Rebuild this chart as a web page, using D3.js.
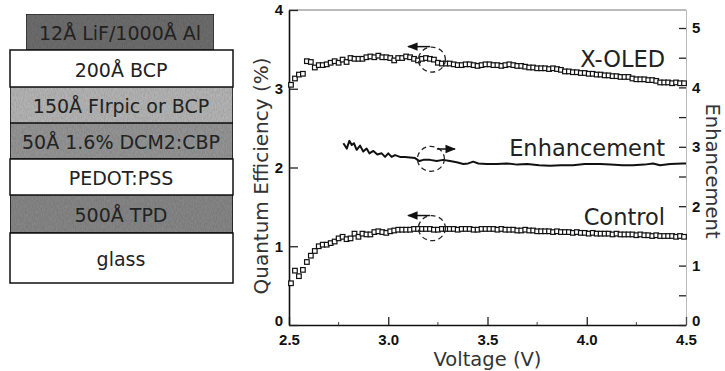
<!DOCTYPE html>
<html>
<head>
<meta charset="utf-8">
<script src="https://cdnjs.cloudflare.com/ajax/libs/d3/7.8.5/d3.min.js"></script>
<style>
  body { margin: 0; background: #fff; }
  svg { display: block; }
</style>
</head>
<body>
<div id="chart"></div>
<script>
// device stack, top to bottom (below the cathode)
var cathodeName = "12Å LiF/1000Å Al";
var layerNames = ["200Å BCP", "150Å FIrpic or BCP", "50Å 1.6% DCM2:CBP", "PEDOT:PSS", "500Å TPD", "glass"];
var layerShades = ["#ffffff", "#bcbcbc", "#9b9b9b", "#ffffff", "#8c8c8c", "#ffffff"];

// axes
var xTicks = [2.5, 3.0, 3.5, 4.0, 4.5];
var xMinorTicks = [2.75, 3.25, 3.75, 4.25];
var leftTicks = [0, 1, 2, 3, 4];
var rightTicks = [0, 0.5, 1, 1.5, 2, 2.5, 3, 3.5, 4, 4.5, 5];

// measured every 0.02 V starting at 2.51 V
var voltageStart = 2.51;
var voltageStep = 0.02;

// X-OLED quantum efficiency (%)
var xoled = [
  3.05, 3.13, 3.18, 3.19, 3.35, 3.34, 3.27, 3.30, 3.30, 3.31,
  3.33, 3.35, 3.33, 3.37, 3.34, 3.39, 3.38, 3.38, 3.38, 3.40,
  3.41, 3.40, 3.42, 3.40, 3.40, 3.39, 3.36, 3.39, 3.39, 3.41,
  3.40, 3.38, 3.36, 3.38, 3.39, 3.38, 3.37, 3.33, 3.32, 3.32,
  3.32, 3.31, 3.30, 3.30, 3.31, 3.31, 3.30, 3.29, 3.30, 3.31,
  3.31, 3.30, 3.30, 3.29, 3.30, 3.31, 3.30, 3.29, 3.29, 3.28,
  3.27, 3.27, 3.26, 3.26, 3.26, 3.25, 3.26, 3.25, 3.24, 3.22,
  3.22, 3.21, 3.21, 3.20, 3.20, 3.19, 3.19, 3.18, 3.18, 3.17,
  3.17, 3.16, 3.16, 3.15, 3.15, 3.15, 3.13, 3.12, 3.12, 3.12,
  3.11, 3.11, 3.10, 3.08, 3.08, 3.08, 3.07, 3.08, 3.07, 3.07
];

// Control quantum efficiency (%)
var control = [
  0.53, 0.69, 0.62, 0.70, 0.80, 0.88, 0.94, 1.00, 1.02, 1.02,
  1.04, 1.06, 1.10, 1.12, 1.09, 1.10, 1.16, 1.12, 1.16, 1.15,
  1.15, 1.18, 1.19, 1.18, 1.17, 1.19, 1.20, 1.21, 1.21, 1.21,
  1.21, 1.22, 1.22, 1.22, 1.22, 1.22, 1.21, 1.21, 1.22, 1.22,
  1.22, 1.22, 1.21, 1.22, 1.22, 1.22, 1.21, 1.21, 1.22, 1.22,
  1.22, 1.22, 1.21, 1.22, 1.21, 1.21, 1.21, 1.20, 1.20, 1.21,
  1.20, 1.20, 1.19, 1.19, 1.19, 1.19, 1.18, 1.19, 1.18, 1.18,
  1.18, 1.17, 1.18, 1.17, 1.17, 1.16, 1.17, 1.16, 1.16, 1.16,
  1.16, 1.15, 1.16, 1.15, 1.15, 1.15, 1.15, 1.14, 1.15, 1.14,
  1.14, 1.13, 1.14, 1.13, 1.13, 1.13, 1.13, 1.12, 1.13, 1.12
];

// Enhancement (right axis)
var enhVoltage = [
  2.774, 2.791, 2.804, 2.816, 2.827, 2.841, 2.858, 2.874, 2.891, 2.905,
  2.925, 2.945, 2.967, 2.984, 3.000, 3.017, 3.034, 3.059, 3.084, 3.110,
  3.135, 3.157, 3.177, 3.210, 3.244, 3.277, 3.311, 3.345, 3.378, 3.403,
  3.428, 3.454, 3.496, 3.546, 3.597, 3.650, 3.700, 3.760, 3.815, 3.870,
  3.930, 3.990, 4.067, 4.120, 4.180, 4.233, 4.290, 4.334, 4.369, 4.420,
  4.485, 4.500
];
var enhancement = [
  3.06, 2.97, 3.10, 3.03, 3.06, 2.95, 3.02, 2.92, 2.97, 2.89,
  2.93, 2.87, 2.89, 2.83, 2.89, 2.83, 2.86, 2.83, 2.83, 2.82,
  2.81, 2.76, 2.78, 2.78, 2.76, 2.78, 2.76, 2.74, 2.71, 2.72,
  2.75, 2.72, 2.71, 2.71, 2.72, 2.70, 2.71, 2.69, 2.68, 2.69,
  2.69, 2.71, 2.71, 2.70, 2.69, 2.69, 2.70, 2.72, 2.69, 2.71,
  2.72, 2.72
];

// curve labels
var curveLabels = ["X-OLED", "Enhancement", "Control"];
var curveLabelValue = [3.28, 2.15, 1.27];   // left-axis units, at the baseline

// dashed circles with arrows (left-axis units)
var circleVoltage = [3.22, 3.215, 3.22];
var circleValue = [3.37, 2.11, 1.23];
var arrowFrom = [3.21, 3.245, 3.21];
var arrowTo = [3.10, 3.336, 3.10];
var arrowValue = [3.535, 2.235, 1.39];

var svgWidth = 725;
var svgHeight = 371;

var plot = { left: 289, right: 686, top: 10, bottom: 325 };

var svg = d3.select("#chart")
  .append("svg")
  .attr("width", svgWidth)
  .attr("height", svgHeight);

svg.append("rect")
  .attr("width", svgWidth)
  .attr("height", svgHeight)
  .attr("fill", "#fff");

// grain texture for the shaded layers
var defs = svg.append("defs");
var grain = defs.append("filter").attr("id", "grain")
  .attr("x", 0).attr("y", 0).attr("width", 1).attr("height", 1);
grain.append("feTurbulence")
  .attr("type", "fractalNoise")
  .attr("baseFrequency", "0.9 0.35")
  .attr("numOctaves", 2)
  .attr("seed", 3)
  .attr("result", "noise");
grain.append("feColorMatrix")
  .attr("in", "noise")
  .attr("type", "matrix")
  .attr("values", "0 0 0 0 0  0 0 0 0 0  0 0 0 0 0  0 0 0 0.35 0")
  .attr("result", "dots");
grain.append("feComposite")
  .attr("in", "dots").attr("in2", "SourceGraphic").attr("operator", "in")
  .attr("result", "dotsIn");
grain.append("feMerge").selectAll("feMergeNode")
  .data(["SourceGraphic", "dotsIn"])
  .enter().append("feMergeNode").attr("in", d => d);

// ---------- device stack ----------
var stackFont = "'DejaVu Sans', sans-serif";
var rowEdges = [50, 87, 123, 159, 195, 233, 283];
var stack = svg.append("g");

var cathode = stack.append("g");
cathode.append("rect")
  .attr("x", 26).attr("y", 14)
  .attr("width", 188).attr("height", 36)
  .attr("fill", "#727272")
  .attr("stroke", "#222")
  .attr("stroke-width", 1.2)
  .attr("filter", "url(#grain)");
cathode.append("text")
  .attr("x", 120).attr("y", 40)
  .attr("text-anchor", "middle")
  .attr("font-family", stackFont)
  .attr("font-size", 19)
  .attr("fill", "#222")
  .text(cathodeName);

var rows = stack.selectAll("g.layer")
  .data(layerNames)
  .enter()
  .append("g")
  .attr("class", "layer");

rows.append("rect")
  .attr("x", 10)
  .attr("y", (d, i) => rowEdges[i])
  .attr("width", 223)
  .attr("height", (d, i) => rowEdges[i + 1] - rowEdges[i])
  .attr("fill", (d, i) => layerShades[i])
  .attr("stroke", "#111")
  .attr("stroke-width", 1.5)
  .attr("filter", (d, i) => layerShades[i] === "#ffffff" ? null : "url(#grain)");

rows.append("text")
  .attr("x", 121)
  .attr("y", (d, i) => (rowEdges[i] + rowEdges[i + 1]) / 2 + 8)
  .attr("text-anchor", "middle")
  .attr("font-family", stackFont)
  .attr("font-size", 19)
  .attr("fill", "#222")
  .text(d => d);

// ---------- chart ----------
var x = d3.scaleLinear().domain([2.5, 4.5]).range([plot.left, plot.right]);
var yL = d3.scaleLinear().domain([0, 4]).range([plot.bottom, plot.top]);
var yR = d3.scaleLinear().domain([0, 5.303]).range([plot.bottom, plot.top]);

var tickFont = "'Liberation Sans Narrow', 'Arial Narrow', 'Liberation Sans', sans-serif";
var labelFont = "'DejaVu Sans', sans-serif";

// top frame line
svg.append("line")
  .attr("x1", plot.left).attr("x2", plot.right)
  .attr("y1", plot.top).attr("y2", plot.top)
  .attr("stroke", "#777")
  .attr("stroke-width", 1);

var bottomAxis = d3.axisBottom(x)
  .tickValues(xTicks)
  .tickFormat(d3.format(".1f"))
  .tickSize(-8)
  .tickSizeOuter(0)
  .tickPadding(9);

var leftAxis = d3.axisLeft(yL)
  .tickValues(leftTicks)
  .tickFormat(d3.format("d"))
  .tickSize(-9)
  .tickSizeOuter(0)
  .tickPadding(6);

var rightAxis = d3.axisRight(yR)
  .tickValues(rightTicks)
  .tickFormat(d => Number.isInteger(d) ? d : "")
  .tickSize(-7)
  .tickSizeOuter(0)
  .tickPadding(6);

var xAxisG = svg.append("g")
  .attr("transform", `translate(0, ${plot.bottom})`)
  .call(bottomAxis);

// minor ticks on the voltage axis
xAxisG.selectAll("line.minor")
  .data(xMinorTicks)
  .enter()
  .append("line")
  .attr("class", "minor")
  .attr("x1", d => x(d)).attr("x2", d => x(d))
  .attr("y1", 0).attr("y2", -3)
  .attr("stroke", "#444");

var yAxisG = svg.append("g")
  .attr("transform", `translate(${plot.left}, 0)`)
  .call(leftAxis);

var rAxisG = svg.append("g")
  .attr("transform", `translate(${plot.right}, 0)`)
  .call(rightAxis);

[xAxisG, yAxisG, rAxisG].forEach(function(g) {
  g.attr("font-family", tickFont)
    .attr("font-size", 15)
    .attr("font-weight", "bold");
  g.selectAll("text").attr("fill", "#111");
  g.selectAll(".tick line").attr("stroke", "#222").attr("stroke-width", 1.3);
});

// the zero labels sit a little above the corner, clear of the voltage labels
[yAxisG, rAxisG].forEach(function(g) {
  g.selectAll(".tick text")
    .filter(d => d === 0)
    .attr("y", -4);
});

xAxisG.select(".domain").attr("stroke", "#111").attr("stroke-width", 1.6);
yAxisG.select(".domain").attr("stroke", "#111").attr("stroke-width", 1.6);
rAxisG.select(".domain")
  .attr("stroke", "#777")
  .attr("stroke-width", 1)
  .attr("stroke-dasharray", "1,1");

// axis titles
svg.append("text")
  .attr("transform", `translate(268, 176) rotate(-90)`)
  .attr("text-anchor", "middle")
  .attr("font-family", labelFont)
  .attr("font-size", 20)
  .attr("fill", "#333")
  .text("Quantum Efficiency (%)");

svg.append("text")
  .attr("x", (plot.left + plot.right) / 2)
  .attr("y", 366)
  .attr("text-anchor", "middle")
  .attr("font-family", labelFont)
  .attr("font-size", 19.5)
  .attr("fill", "#333")
  .text("Voltage (V)");

svg.append("text")
  .attr("transform", `translate(706, 171) rotate(90)`)
  .attr("text-anchor", "middle")
  .attr("font-family", labelFont)
  .attr("font-size", 19.5)
  .attr("fill", "#333")
  .text("Enhancement");

// series
var voltageAt = i => voltageStart + i * voltageStep;

// enhancement line
var enhLine = d3.line()
  .x(d => x(d[0]))
  .y(d => yR(d[1]));

svg.append("path")
  .datum(d3.zip(enhVoltage, enhancement))
  .attr("d", enhLine)
  .attr("fill", "none")
  .attr("stroke", "#111")
  .attr("stroke-width", 2)
  .attr("stroke-linejoin", "round");

function drawSquares(values, cls) {
  svg.selectAll("rect." + cls)
    .data(values)
    .enter()
    .append("rect")
    .attr("class", cls)
    .attr("x", (d, i) => x(voltageAt(i)) - 2.3)
    .attr("y", d => yL(d) - 2.3)
    .attr("width", 4.6)
    .attr("height", 4.6)
    .attr("fill", "#fff")
    .attr("stroke", "#111")
    .attr("stroke-width", 1.2);
}
drawSquares(xoled, "xoled");
drawSquares(control, "control");

// dashed circles and arrows
defs.append("marker")
  .attr("id", "head")
  .attr("viewBox", "0 0 10 10")
  .attr("refX", 9).attr("refY", 5)
  .attr("markerWidth", 7).attr("markerHeight", 7)
  .attr("orient", "auto")
  .append("path")
  .attr("d", "M0,1 L10,5 L0,9 Z")
  .attr("fill", "#111");

var notes = svg.selectAll("g.note")
  .data(circleVoltage)
  .enter()
  .append("g")
  .attr("class", "note");

notes.append("ellipse")
  .attr("cx", (d, i) => x(d))
  .attr("cy", (d, i) => yL(circleValue[i]))
  .attr("rx", 13.5)
  .attr("ry", 12.5)
  .attr("fill", "none")
  .attr("stroke", "#222")
  .attr("stroke-width", 1.3)
  .attr("stroke-dasharray", "5,3.5");

notes.append("line")
  .attr("x1", (d, i) => x(arrowFrom[i]))
  .attr("x2", (d, i) => x(arrowTo[i]))
  .attr("y1", (d, i) => yL(arrowValue[i]))
  .attr("y2", (d, i) => yL(arrowValue[i]))
  .attr("stroke", "#111")
  .attr("stroke-width", 1.5)
  .attr("marker-end", "url(#head)");

// curve labels
svg.selectAll("text.curve")
  .data(curveLabels)
  .enter()
  .append("text")
  .attr("class", "curve")
  .attr("x", plot.right - 21)
  .attr("y", (d, i) => yL(curveLabelValue[i]))
  .attr("text-anchor", "end")
  .attr("font-family", labelFont)
  .attr("font-size", 22.5)
  .attr("fill", "#222")
  .text(d => d);
</script>
</body>
</html>
